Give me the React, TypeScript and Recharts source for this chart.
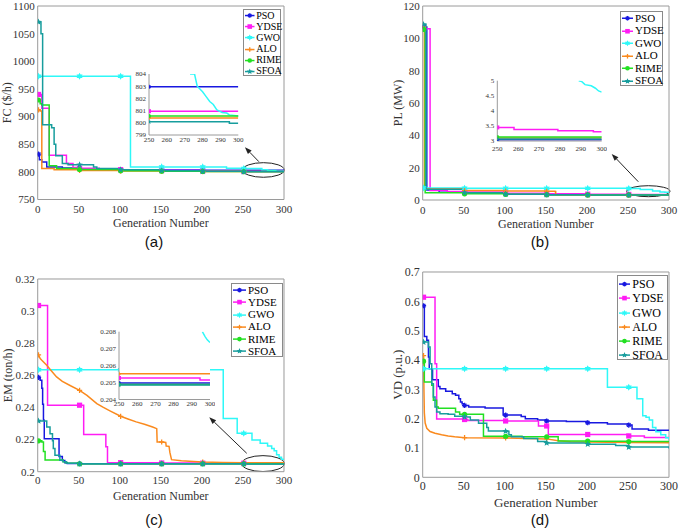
import React from "react";
import {
  CartesianGrid,
  Legend,
  Line,
  LineChart,
  ReferenceArea,
  ReferenceLine,
  XAxis,
  YAxis,
} from "recharts";

type Pt = [number, number];
type SeriesSet = Record<string, Pt[]>;

const seriesNames = ["PSO", "YDSE", "GWO", "ALO", "RIME", "SFOA"];
const seriesColors: Record<string, string> = {
  PSO: "#1818e0",
  YDSE: "#ff1cf4",
  GWO: "#2ef8f8",
  ALO: "#fa8a1e",
  RIME: "#22e022",
  SFOA: "#179d9d",
};

const genTicks = [0, 50, 100, 150, 200, 250, 300];
const zoomGenTicks = [250, 260, 270, 280, 290, 300];
const markerGens = [1, 51, 101, 151, 201, 251];
const zoomMarkerGens = [250];

// (a) fuel cost
const fcTicks = [750, 800, 850, 900, 950, 1000, 1050, 1100];
const fcZoomTicks = [799, 800, 801, 802, 803, 804];
const fcMain: SeriesSet = {
  PSO: [[0, 832], [1, 832], [2, 822], [5, 818], [10, 818], [11, 809], [30, 807], [51, 805.5], [80, 804.5], [101, 804], [151, 803.4], [201, 803.1], [251, 802.95], [300, 802.95]],
  YDSE: [[0, 940], [1, 940], [5, 915], [14, 830], [35, 815], [43, 808], [51, 806.5], [75, 805], [101, 804], [151, 802.5], [201, 801.5], [251, 800.95], [300, 800.95]],
  GWO: [[0, 973], [1, 973], [51, 973], [101, 973], [113, 809], [151, 809], [201, 809], [230, 806.5], [251, 806], [273, 804], [280, 802.5], [290, 800.9], [300, 800.55]],
  ALO: [[0, 913], [1, 912], [3, 910], [5, 806], [20, 804], [51, 802.5], [101, 801.5], [151, 801], [201, 800.6], [251, 800.4], [300, 800.4]],
  RIME: [[0, 931.5], [1, 930], [3, 923], [5, 921], [14, 811], [23, 806], [51, 804.3], [101, 802], [151, 801.2], [201, 800.8], [251, 800.55], [300, 800.5]],
  SFOA: [[0, 1071], [1, 1071], [4, 1050], [6, 885], [15, 885], [17, 880], [20, 850], [22, 829], [29, 829], [30, 815], [37, 812.7], [51, 812.7], [68, 809], [72, 806], [101, 804], [151, 802], [201, 801], [251, 800.1], [295, 799.97], [300, 799.97]],
};
const fcLinear: string[] = [];
const fcZoom: SeriesSet = {
  PSO: [[250, 802.95], [300, 802.95]],
  YDSE: [[250, 800.95], [300, 800.95]],
  GWO: [[273, 804], [275.5, 804], [277, 803], [280, 802.55], [282, 802.15], [284, 801.75], [286, 801.5], [288, 801.05], [291, 800.85], [293.5, 800.8], [295, 800.65], [300, 800.55]],
  ALO: [[250, 800.4], [300, 800.4]],
  RIME: [[250, 800.55], [300, 800.5]],
  SFOA: [[250, 800.08], [294.5, 800.08], [295, 799.97], [300, 799.97]],
};
const fcZoomLinear = ["GWO"];

// (b) power loss
const plTicks = [0, 20, 40, 60, 80, 100, 120];
const plZoomTicks = [3, 3.5, 4, 4.5, 5];
const plMain: SeriesSet = {
  PSO: [[0, 107], [1, 107], [5, 6.2], [20, 4.8], [51, 4.3], [101, 3.6], [151, 3.3], [201, 3.1], [251, 3.05], [300, 3.05]],
  YDSE: [[0, 106], [1, 106], [9, 5.8], [30, 5.2], [51, 4.9], [101, 4.2], [151, 3.8], [201, 3.6], [251, 3.45], [258, 3.38], [279, 3.34], [296, 3.31], [300, 3.31]],
  GWO: [[0, 7.5], [1, 7.5], [51, 7.3], [101, 7.2], [151, 7.2], [201, 7.2], [251, 7.1], [265, 6.5], [280, 5.6], [289, 5], [295, 4.8], [300, 4.6]],
  ALO: [[0, 107.5], [1, 107], [2, 6.8], [51, 5.8], [101, 5.5], [151, 5.4], [161, 5.3], [162, 3.2], [201, 3.1], [251, 3.1], [300, 3.1]],
  RIME: [[0, 105.5], [1, 105.5], [3, 4.5], [51, 3.8], [101, 3.5], [151, 3.3], [201, 3.15], [251, 3.12], [300, 3.12]],
  SFOA: [[0, 108.5], [1, 108.5], [4, 6.6], [51, 4.5], [101, 3.6], [151, 3.3], [201, 3.1], [251, 3.07], [300, 3.07]],
};
const plLinear: string[] = [];
const plZoom: SeriesSet = {
  PSO: [[250, 3.04], [300, 3.04]],
  YDSE: [[250, 3.45], [258, 3.38], [279, 3.34], [296, 3.31], [300, 3.31]],
  GWO: [[289, 5], [290.5, 4.97], [292, 4.87], [295, 4.83], [297, 4.75], [298.5, 4.66], [300, 4.62]],
  ALO: [[250, 3.1], [300, 3.1]],
  RIME: [[250, 3.13], [300, 3.12]],
  SFOA: [[250, 3.07], [300, 3.07]],
};
const plZoomLinear = ["GWO"];

// (c) emission
const emTicks = [0.2, 0.22, 0.24, 0.26, 0.28, 0.3, 0.32];
const emZoomTicks = [0.204, 0.205, 0.206, 0.207, 0.208];
const emMain: SeriesSet = {
  PSO: [[0, 0.2587], [1, 0.2587], [3, 0.257], [5, 0.252], [6, 0.242], [7, 0.232], [8, 0.2205], [26, 0.2094], [30, 0.207], [33, 0.2055], [36, 0.2051], [51, 0.205], [101, 0.205], [151, 0.205], [201, 0.205], [251, 0.205], [300, 0.205]],
  YDSE: [[0, 0.3035], [1, 0.3035], [12, 0.2414], [51, 0.2414], [56, 0.2232], [82, 0.2232], [83, 0.2155], [85, 0.2056], [101, 0.2056], [151, 0.2054], [201, 0.2053], [251, 0.20527], [295, 0.20515], [300, 0.20515]],
  GWO: [[0, 0.2635], [1, 0.2635], [51, 0.2635], [101, 0.2635], [151, 0.2635], [201, 0.2635], [226, 0.2332], [243, 0.2239], [251, 0.2239], [261, 0.2197], [271, 0.2177], [280, 0.216], [285, 0.2145], [288, 0.213], [291, 0.2105], [294, 0.209], [297, 0.2078], [300, 0.2072]],
  ALO: [[0, 0.2735], [1, 0.2728], [3, 0.2705], [5, 0.2694], [11, 0.2663], [16, 0.2632], [23, 0.259], [30, 0.2562], [40, 0.2535], [51, 0.2507], [60, 0.2475], [72, 0.2424], [80, 0.24], [88, 0.2379], [101, 0.2345], [110, 0.2328], [120, 0.231], [130, 0.2295], [140, 0.2278], [145, 0.2268], [145.5, 0.2185], [151, 0.2185], [156, 0.2182], [156.5, 0.216], [160, 0.2158], [161, 0.212], [163, 0.2075], [175, 0.2068], [190, 0.2063], [201, 0.206], [225, 0.2057], [251, 0.2055], [300, 0.2055]],
  RIME: [[0, 0.2192], [1, 0.2192], [5, 0.2185], [7, 0.2125], [9, 0.2073], [31, 0.2062], [35, 0.2053], [51, 0.2049], [101, 0.2049], [151, 0.2049], [201, 0.2049], [251, 0.20488], [300, 0.20488]],
  SFOA: [[0, 0.2316], [1, 0.2316], [11, 0.2279], [15, 0.2237], [18, 0.2192], [19, 0.2144], [21, 0.2102], [27, 0.2071], [31, 0.2062], [35, 0.2052], [51, 0.2049], [101, 0.2049], [151, 0.2049], [201, 0.2049], [251, 0.20485], [300, 0.20485]],
};
const emLinear = ["ALO"];
const emZoom: SeriesSet = {
  PSO: [[250, 0.20497], [300, 0.20497]],
  YDSE: [[250, 0.20527], [294.5, 0.20515], [300, 0.20515]],
  GWO: [[295.8, 0.208], [297.3, 0.20771], [298.5, 0.20752], [300, 0.20736]],
  ALO: [[250, 0.20552], [300, 0.20552]],
  RIME: [[250, 0.20488], [300, 0.20488]],
  SFOA: [[250, 0.20485], [300, 0.20485]],
};
const emZoomLinear = ["GWO"];

// (d) voltage deviation
const vdTicks = [0, 0.1, 0.2, 0.3, 0.4, 0.5, 0.6, 0.7];
const vdMain: SeriesSet = {
  PSO: [[0, 0.585], [1, 0.585], [2, 0.48], [5, 0.467], [7, 0.41], [8, 0.37], [12, 0.333], [19, 0.31], [21, 0.302], [28, 0.293], [36, 0.285], [40, 0.28], [44, 0.268], [46, 0.257], [48, 0.251], [50, 0.245], [51, 0.245], [56, 0.24], [76, 0.236], [98, 0.212], [101, 0.212], [120, 0.207], [125, 0.2], [140, 0.195], [151, 0.192], [175, 0.19], [201, 0.186], [225, 0.182], [251, 0.178], [255, 0.165], [275, 0.16], [300, 0.158]],
  YDSE: [[0, 0.614], [1, 0.614], [15, 0.387], [17, 0.199], [51, 0.197], [55, 0.194], [101, 0.192], [141, 0.175], [151, 0.175], [153, 0.146], [201, 0.146], [251, 0.141], [270, 0.136], [300, 0.136]],
  GWO: [[0, 0.37], [1, 0.37], [51, 0.37], [101, 0.37], [151, 0.37], [201, 0.37], [225, 0.307], [251, 0.307], [261, 0.268], [268, 0.21], [272, 0.205], [276, 0.195], [280, 0.17], [284, 0.155], [290, 0.145], [296, 0.135], [300, 0.128]],
  ALO: [[0, 0.421], [1, 0.415], [1.5, 0.3], [2, 0.22], [3, 0.185], [5, 0.167], [9, 0.156], [15, 0.15], [23, 0.145], [31, 0.141], [39, 0.138], [51, 0.135], [101, 0.134], [151, 0.131], [165, 0.125], [180, 0.121], [201, 0.12], [251, 0.119], [300, 0.118]],
  RIME: [[0, 0.396], [1, 0.396], [2, 0.325], [11, 0.314], [13, 0.263], [17, 0.24], [19, 0.2355], [40, 0.223], [45, 0.215], [51, 0.215], [74, 0.14], [101, 0.14], [121, 0.138], [151, 0.138], [165, 0.124], [201, 0.123], [251, 0.122], [300, 0.122]],
  SFOA: [[0, 0.461], [1, 0.461], [7, 0.444], [9, 0.387], [11, 0.319], [13, 0.274], [15, 0.24], [17, 0.223], [21, 0.217], [31, 0.215], [39, 0.208], [51, 0.206], [58, 0.195], [68, 0.184], [78, 0.17], [80, 0.158], [101, 0.157], [105, 0.145], [108, 0.138], [123, 0.132], [140, 0.122], [151, 0.117], [201, 0.113], [235, 0.108], [251, 0.103], [300, 0.098]],
};
const vdLinear = ["ALO"];

const serif = '"Liberation Serif", "Times New Roman", serif';
const axisColor = "#9a9a9a";
const textColor = "#333";

function starPoints(cx: number, cy: number, ro: number, ri: number, n: number) {
  const pts: string[] = [];
  for (let i = 0; i < n * 2; i++) {
    const r = i % 2 === 0 ? ro : ri;
    const a = -Math.PI / 2 + (i * Math.PI) / n;
    pts.push(`${cx + r * Math.cos(a)},${cy + r * Math.sin(a)}`);
  }
  return pts.join(" ");
}

function Marker({ name, cx, cy, r }: { name: string; cx: number; cy: number; r: number }) {
  const c = seriesColors[name];
  if (name === "PSO") {
    const d = r * 0.7;
    return (
      <g stroke={c} strokeWidth={1.3}>
        <line x1={cx - r} y1={cy} x2={cx + r} y2={cy} />
        <line x1={cx} y1={cy - r} x2={cx} y2={cy + r} />
        <line x1={cx - d} y1={cy - d} x2={cx + d} y2={cy + d} />
        <line x1={cx - d} y1={cy + d} x2={cx + d} y2={cy - d} />
      </g>
    );
  }
  if (name === "YDSE") return <rect x={cx - r} y={cy - r} width={2 * r} height={2 * r} fill={c} />;
  if (name === "ALO") {
    return (
      <g stroke={c} strokeWidth={1.3}>
        <line x1={cx - r} y1={cy} x2={cx + r} y2={cy} />
        <line x1={cx} y1={cy - r} x2={cx} y2={cy + r} />
      </g>
    );
  }
  if (name === "RIME") return <circle cx={cx} cy={cy} r={r} fill={c} />;
  const n = name === "GWO" ? 6 : 5;
  const ro = r * 1.35;
  return <polygon points={starPoints(cx, cy, ro, ro * (n === 6 ? 0.55 : 0.45), n)} fill={c} />;
}

const dotFor = (name: string, marks: number[], r: number) => (props: any) => {
  const { cx, cy, payload, index } = props;
  if (cx == null || cy == null || !marks.includes(payload.x)) return <g key={`${name}-${index}`} />;
  return (
    <g key={`${name}-${index}`}>
      <Marker name={name} cx={cx} cy={cy} r={r} />
    </g>
  );
};

function seriesLines(data: SeriesSet, linear: string[], marks: number[], r: number) {
  return seriesNames
    .filter((n) => data[n])
    .map((n) => (
      <Line
        key={n}
        name={n}
        data={data[n].map(([x, y]) => ({ x, y }))}
        dataKey="y"
        type={linear.includes(n) ? "linear" : "stepAfter"}
        stroke={seriesColors[n]}
        strokeWidth={1.5}
        dot={dotFor(n, marks, r)}
        activeDot={false}
        isAnimationActive={false}
      />
    ));
}

type LegendSpec = { left: number; top: number; width: number; height: number; rowH: number; padTop: number; lineW: number; fontSize: number };

function LegendBox({ s }: { s: LegendSpec }) {
  return (
    <div
      style={{
        width: s.width,
        height: s.height,
        boxSizing: "border-box",
        border: "1px solid #8a8a8a",
        background: "#fff",
        paddingTop: s.padTop,
        fontFamily: serif,
        fontSize: s.fontSize,
        color: "#000",
      }}
    >
      {seriesNames.map((n) => (
        <div key={n} style={{ height: s.rowH, display: "flex", alignItems: "center" }}>
          <svg width={s.lineW + 1} height={s.rowH} style={{ flex: "none" }}>
            <line x1={1} y1={s.rowH / 2} x2={s.lineW} y2={s.rowH / 2} stroke={seriesColors[n]} strokeWidth={1.5} />
            <Marker name={n} cx={(s.lineW + 1) / 2} cy={s.rowH / 2} r={2.3} />
          </svg>
          <span style={{ lineHeight: 1, marginLeft: 1 }}>{n}</span>
        </div>
      ))}
    </div>
  );
}

type InsetSpec = {
  left: number; top: number; width: number; height: number; yWidth: number;
  mt: number; mr: number; xHeight: number; xMargin: number;
  yDomain: [number, number]; yTicks: number[]; data: SeriesSet; linear: string[];
};

function Inset({ s }: { s: InsetSpec }) {
  return (
    <div style={{ position: "absolute", left: s.left, top: s.top }}>
      <LineChart width={s.width} height={s.height} margin={{ top: s.mt, right: s.mr, bottom: 0, left: 0 }}>
        <CartesianGrid horizontal={false} vertical={false} fill="#fff" />
        <XAxis
          dataKey="x"
          type="number"
          domain={[250, 300]}
          ticks={zoomGenTicks}
          interval={0}
          allowDataOverflow
          height={s.xHeight}
          stroke={axisColor}
          tickLine={false}
          tickSize={0}
          tickMargin={s.xMargin}
          tick={{ fontSize: 7, fill: textColor }}
        />
        <YAxis
          type="number"
          domain={s.yDomain}
          ticks={s.yTicks}
          interval={0}
          allowDataOverflow
          width={s.yWidth}
          stroke={axisColor}
          tickLine={false}
          tickSize={0}
          tickMargin={3}
          tick={{ fontSize: 7, fill: textColor }}
        />
        {seriesLines(s.data, s.linear, zoomMarkerGens, 2)}
      </LineChart>
    </div>
  );
}

type PanelSpec = {
  left: number; top: number; width: number; height: number;
  margin: { top: number; right: number; bottom: number; left: number };
  yWidth: number; xHeight: number; tickFont: number; titleFont: number;
  xTickSize: number; xTickMargin: number; xLabelOffset: number;
  yDomain: [number, number]; yTicks: number[]; yLabel: string; yLabelOffset: number;
  data: SeriesSet; linear: string[];
  legend: LegendSpec;
  inset?: InsetSpec;
  ellipse?: { x1: number; x2: number; y1: number; y2: number };
  arrow?: [Pt, Pt];
  caption: { text: string; cx: number; cy: number };
};

function ArrowShape(p: any) {
  const { x1, y1, x2, y2 } = p;
  const a = Math.atan2(y2 - y1, x2 - x1);
  const L = 7;
  const W = 2.6;
  const bx = x2 - L * Math.cos(a);
  const by = y2 - L * Math.sin(a);
  const px = -Math.sin(a) * W;
  const py = Math.cos(a) * W;
  return (
    <g>
      <line x1={x1} y1={y1} x2={bx} y2={by} stroke="#222" strokeWidth={1} />
      <polygon points={`${x2},${y2} ${bx + px},${by + py} ${bx - px},${by - py}`} fill="#222" />
    </g>
  );
}

function Panel({ p }: { p: PanelSpec }) {
  const lg = p.legend;
  return (
    <>
      <div style={{ position: "absolute", left: p.left, top: p.top }}>
        <LineChart width={p.width} height={p.height} margin={p.margin}>
          <XAxis
            dataKey="x"
            type="number"
            domain={[0, 300]}
            ticks={genTicks}
            interval={0}
            allowDataOverflow
            height={p.xHeight}
            stroke={axisColor}
            tickLine={false}
            tickSize={p.xTickSize}
            tickMargin={p.xTickMargin}
            tick={{ fontSize: p.tickFont, fill: textColor }}
            label={{ value: "Generation Number", position: "insideBottom", offset: p.xLabelOffset, fontSize: p.titleFont, fill: textColor }}
          />
          <YAxis
            type="number"
            domain={p.yDomain}
            ticks={p.yTicks}
            interval={0}
            allowDataOverflow
            width={p.yWidth}
            stroke={axisColor}
            tickLine={false}
            tickSize={0}
            tickMargin={3}
            tick={{ fontSize: p.tickFont, fill: textColor }}
            label={{
              value: p.yLabel,
              angle: -90,
              position: "insideLeft",
              offset: p.yLabelOffset,
              fontSize: p.titleFont,
              fill: textColor,
              style: { textAnchor: "middle" },
            }}
          />
          <ReferenceLine y={p.yDomain[1]} stroke={axisColor} />
          <ReferenceLine x={300} stroke={axisColor} />
          {seriesLines(p.data, p.linear, markerGens, 2.6)}
          {p.ellipse && (
            <ReferenceArea
              x1={p.ellipse.x1}
              x2={p.ellipse.x2}
              y1={p.ellipse.y1}
              y2={p.ellipse.y2}
              ifOverflow="visible"
              shape={(s: any) => (
                <ellipse
                  cx={s.x + s.width / 2}
                  cy={s.y + s.height / 2}
                  rx={Math.abs(s.width) / 2}
                  ry={Math.abs(s.height) / 2}
                  fill="none"
                  stroke="#222"
                  strokeWidth={1}
                />
              )}
            />
          )}
          {p.arrow && (
            <ReferenceLine
              segment={[
                { x: p.arrow[0][0], y: p.arrow[0][1] },
                { x: p.arrow[1][0], y: p.arrow[1][1] },
              ]}
              ifOverflow="visible"
              shape={(s: any) => <ArrowShape {...s} />}
            />
          )}
          <Legend
            layout="horizontal"
            verticalAlign="middle"
            align="center"
            wrapperStyle={{ left: lg.left, top: lg.top, width: lg.width, height: lg.height }}
            content={() => <LegendBox s={lg} />}
          />
        </LineChart>
      </div>
      {p.inset && <Inset s={p.inset} />}
      <div
        style={{
          position: "absolute",
          left: p.caption.cx - 30,
          top: p.caption.cy - 10,
          width: 60,
          height: 20,
          lineHeight: "20px",
          textAlign: "center",
          fontFamily: '"Liberation Sans", Arial, sans-serif',
          fontSize: 15,
          color: "#111",
        }}
      >
        {p.caption.text}
      </div>
    </>
  );
}

const panels: PanelSpec[] = [
  {
    left: 0, top: 0, width: 340, height: 232,
    margin: { top: 6, right: 56, bottom: 0.5, left: 0 },
    yWidth: 37.7, xHeight: 32, tickFont: 11, titleFont: 12,
    xTickSize: 3, xTickMargin: 3, xLabelOffset: 4.5,
    yDomain: [750, 1100], yTicks: fcTicks, yLabel: "FC ($/h)", yLabelOffset: 7,
    data: fcMain, linear: fcLinear,
    legend: { left: 242.7, top: 9.3, width: 38.6, height: 66.7, rowH: 11.1, padTop: 0, lineW: 10.5, fontSize: 10 },
    inset: {
      left: 115, top: 70, width: 130, height: 77, yWidth: 34, mt: 4, mr: 6.7, xHeight: 12, xMargin: 2,
      yDomain: [799, 804], yTicks: fcZoomTicks, data: fcZoom, linear: fcZoomLinear,
    },
    ellipse: { x1: 249.6, x2: 300.3, y1: 790.2, y2: 816.6 },
    arrow: [[269.4, 818.4], [252.4, 844.5]],
    caption: { text: "(a)", cx: 154, cy: 241.7 },
  },
  {
    left: 340, top: 0, width: 339, height: 232,
    margin: { top: 6, right: 10, bottom: 0, left: 0 },
    yWidth: 82.7, xHeight: 32, tickFont: 11, titleFont: 12,
    xTickSize: 3, xTickMargin: 3, xLabelOffset: 4.5,
    yDomain: [0, 120], yTicks: plTicks, yLabel: "PL (MW)", yLabelOffset: 57.5,
    data: plMain, linear: plLinear,
    legend: { left: 280, top: 10.7, width: 43.3, height: 75.3, rowH: 12.5, padTop: 0.4, lineW: 12, fontSize: 11 },
    inset: {
      left: 470, top: 75, width: 137, height: 80, yWidth: 27.3, mt: 5.7, mr: 5.3, xHeight: 14, xMargin: 5,
      yDomain: [3, 5], yTicks: plZoomTicks, data: plZoom, linear: plZoomLinear,
    },
    ellipse: { x1: 248.5, x2: 301.2, y1: 2.04, y2: 8.85 },
    arrow: [[262.6, 11.3], [230.2, 28.5]],
    caption: { text: "(b)", cx: 540, cy: 241.7 },
  },
  {
    left: 0, top: 265, width: 340, height: 238.7,
    margin: { top: 14, right: 56, bottom: 0, left: 0 },
    yWidth: 37.7, xHeight: 32, tickFont: 11, titleFont: 12,
    xTickSize: 3, xTickMargin: 2, xLabelOffset: 4,
    yDomain: [0.2, 0.32], yTicks: emTicks, yLabel: "EM (ton/h)", yLabelOffset: 7.5,
    data: emMain, linear: emLinear,
    legend: { left: 231, top: 18.3, width: 51.7, height: 73.4, rowH: 12.2, padTop: 0, lineW: 14, fontSize: 11 },
    inset: {
      left: 85, top: 326, width: 130, height: 85.5, yWidth: 34, mt: 5.7, mr: 5, xHeight: 12, xMargin: 2,
      yDomain: [0.204, 0.208], yTicks: emZoomTicks, data: emZoom, linear: emZoomLinear,
    },
    ellipse: { x1: 248.5, x2: 300.3, y1: 0.2001, y2: 0.21 },
    arrow: [[254.6, 0.21146], [209, 0.23388]],
    caption: { text: "(c)", cx: 154, cy: 520 },
  },
  {
    left: 340, top: 265, width: 339, height: 246.3,
    margin: { top: 7, right: 10, bottom: 0, left: 0 },
    yWidth: 82.7, xHeight: 34, tickFont: 12, titleFont: 13,
    xTickSize: 2, xTickMargin: 2, xLabelOffset: 4,
    yDomain: [0, 0.7], yTicks: vdTicks, yLabel: "VD (p.u.)", yLabelOffset: 57.4,
    data: vdMain, linear: vdLinear,
    legend: { left: 277.3, top: 10, width: 51, height: 85, rowH: 14.2, padTop: 1.2, lineW: 12, fontSize: 12 },
    caption: { text: "(d)", cx: 540, cy: 520 },
  },
];

export default function App() {
  return (
    <div
      style={{
        position: "absolute",
        left: 0,
        top: 0,
        width: 679,
        height: 532,
        background: "#fff",
        fontFamily: serif,
        overflow: "hidden",
      }}
    >
      {panels.map((p) => (
        <Panel key={p.caption.text} p={p} />
      ))}
    </div>
  );
}
